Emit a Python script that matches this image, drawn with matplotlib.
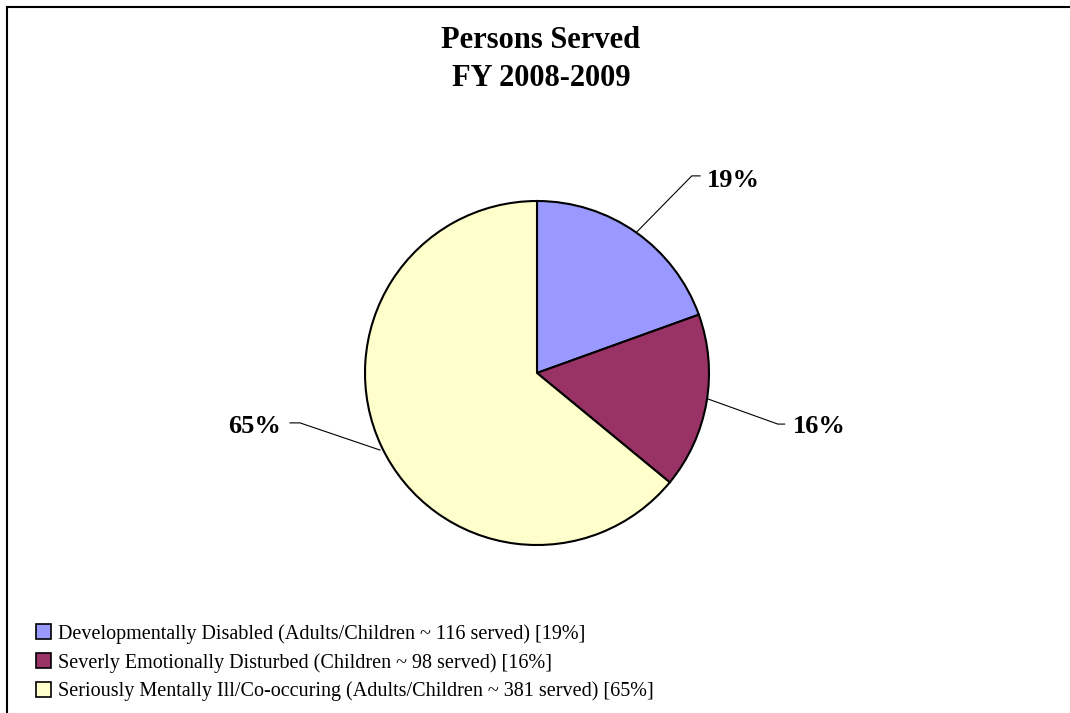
import matplotlib.pyplot as plt
from matplotlib.patches import Patch
from matplotlib.lines import Line2D

# data
categories = ["Developmentally Disabled (Adults/Children ~ 116 served) [19%]",
              "Severly Emotionally Disturbed (Children ~ 98 served) [16%]",
              "Seriously Mentally Ill/Co-occuring (Adults/Children ~ 381 served) [65%]"]
served = [116, 98, 381]
pct_labels = ["19%", "16%", "65%"]
colors = ["#9999FF", "#993366", "#FFFFCC"]

plt.rcParams['font.family'] = ['Liberation Serif', 'DejaVu Serif']

W, H = 1070, 713
fig = plt.figure(figsize=(W / 100, H / 100), dpi=100)

# frame (top and left edge visible)
fig.add_artist(Line2D([7 / W, 7 / W], [0, 1 - 7 / H], color='black', lw=1.5))
fig.add_artist(Line2D([7 / W, 1], [1 - 7 / H, 1 - 7 / H], color='black', lw=1.5))

fig.text(541 / W, 1 - 48 / H, "Persons Served", ha='center', va='baseline',
         fontsize=22, fontweight='bold')
fig.text(541 / W, 1 - 86 / H, "FY 2008-2009", ha='center', va='baseline',
         fontsize=22, fontweight='bold')

cx, cy, r = 537, 373, 172
ax = fig.add_axes([(cx - r) / W, 1 - (cy + r) / H, 2 * r / W, 2 * r / H])
ax.pie(served, colors=colors, startangle=90, counterclock=False,
       wedgeprops=dict(edgecolor='black', linewidth=1.5))
ax.set_xlim(-1, 1)
ax.set_ylim(-1, 1)
ax.set_aspect('equal')
ax.axis('off')

# leader lines and labels (data coords, pie radius = 1)
leaders = [
    ([0.58, 0.90, 0.948], [0.82, 1.146, 1.146], (0.985, 1.081), 'left'),
    ([0.994, 1.40, 1.44], [-0.151, -0.297, -0.297], (1.488, -0.349), 'left'),
    ([-0.913, -1.378, -1.436], [-0.448, -0.29, -0.29], (-1.488, -0.349), 'right'),
]
for lab, (xs, ys, (tx, ty), ha) in zip(pct_labels, leaders):
    ax.plot(xs, ys, color='black', lw=0.8, clip_on=False)
    ax.text(tx, ty, lab, ha=ha, va='baseline', fontsize=19, fontweight='bold')

handles = [Patch(facecolor=c, edgecolor='black', linewidth=1.2) for c in colors]
fig.legend(handles, categories, loc='upper left',
           bbox_to_anchor=(26 / W, 1 - 614 / H), frameon=False,
           fontsize=14.5, handlelength=0.75, handleheight=0.75,
           handletextpad=0.35, labelspacing=0.45, borderpad=0)

fig.savefig("out.png", dpi=100)
